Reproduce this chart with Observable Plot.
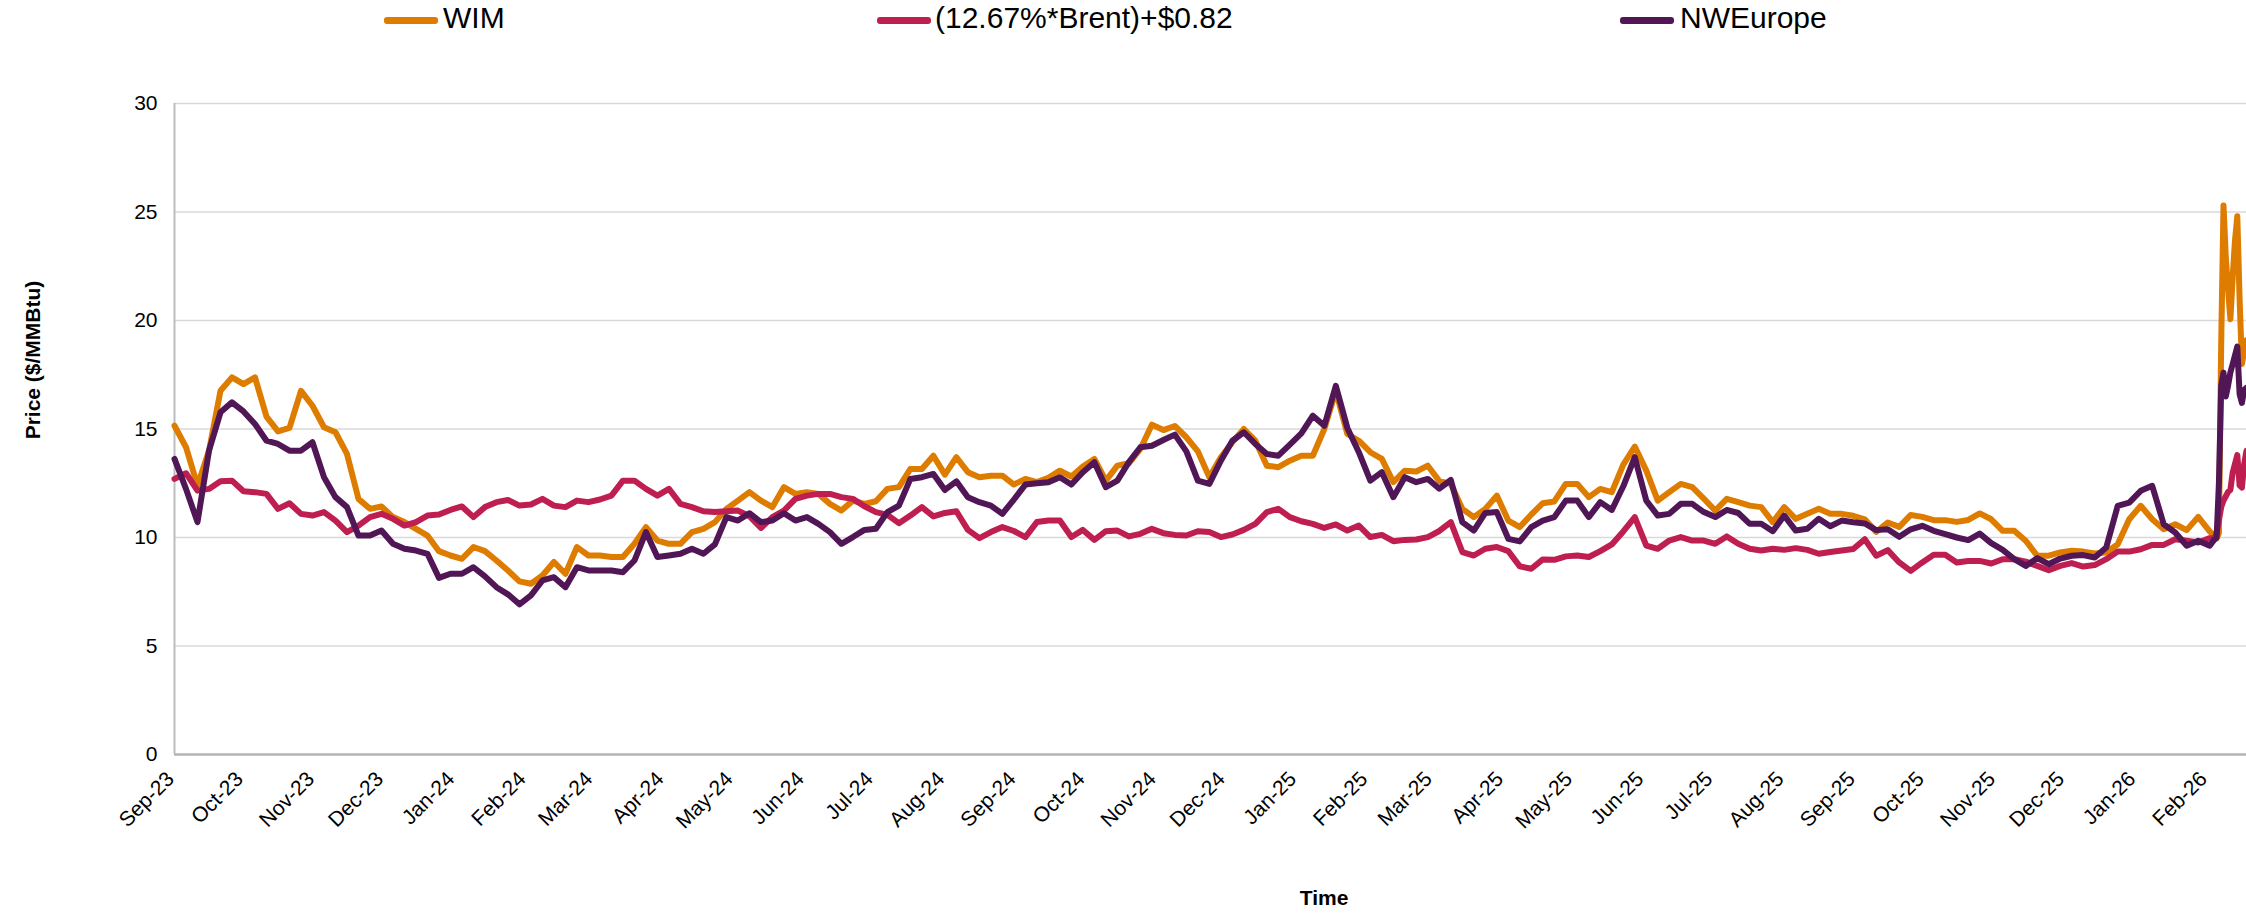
<!DOCTYPE html>
<html>
<head>
<meta charset="utf-8">
<script src="https://cdn.jsdelivr.net/npm/d3@7"></script>
<script src="https://cdn.jsdelivr.net/npm/@observablehq/plot@0.6"></script>
<style>
  html, body { margin: 0; padding: 0; background: #fff; }
  #wrap { position: relative; width: 2246px; height: 913px; font-family: "Liberation Sans", Arial, sans-serif; color: #000; }
  .lg-sw { position: absolute; height: 7px; border-radius: 3px; }
  .lg-tx { position: absolute; font-size: 30px; line-height: 30px; white-space: nowrap; }
  .ttl { position: absolute; font-size: 21px; font-weight: bold; white-space: nowrap; }
</style>
</head>
<body>
<div id="wrap"></div>
<script>
// ---- data ----
const dates = [
"2023-09-01","2023-09-06","2023-09-11","2023-09-16","2023-09-21","2023-09-26","2023-10-01","2023-10-06","2023-10-11","2023-10-16",
"2023-10-21","2023-10-26","2023-10-31","2023-11-05","2023-11-10","2023-11-15","2023-11-20","2023-11-25","2023-11-30","2023-12-05",
"2023-12-10","2023-12-15","2023-12-20","2023-12-25","2023-12-30","2024-01-04","2024-01-09","2024-01-14","2024-01-19","2024-01-24",
"2024-01-29","2024-02-03","2024-02-08","2024-02-13","2024-02-18","2024-02-23","2024-02-28","2024-03-04","2024-03-09","2024-03-14",
"2024-03-19","2024-03-24","2024-03-29","2024-04-03","2024-04-08","2024-04-13","2024-04-18","2024-04-23","2024-04-28","2024-05-03",
"2024-05-08","2024-05-13","2024-05-18","2024-05-23","2024-05-28","2024-06-02","2024-06-07","2024-06-12","2024-06-17","2024-06-22",
"2024-06-27","2024-07-02","2024-07-07","2024-07-12","2024-07-17","2024-07-22","2024-07-27","2024-08-01","2024-08-06","2024-08-11",
"2024-08-16","2024-08-21","2024-08-26","2024-08-31","2024-09-05","2024-09-10","2024-09-15","2024-09-20","2024-09-25","2024-09-30",
"2024-10-05","2024-10-10","2024-10-15","2024-10-20","2024-10-25","2024-10-30","2024-11-04","2024-11-09","2024-11-14","2024-11-19",
"2024-11-24","2024-11-29","2024-12-04","2024-12-09","2024-12-14","2024-12-19","2024-12-24","2024-12-29","2025-01-03","2025-01-08",
"2025-01-13","2025-01-18","2025-01-23","2025-01-28","2025-02-02","2025-02-07","2025-02-12","2025-02-17","2025-02-22","2025-02-27",
"2025-03-04","2025-03-09","2025-03-14","2025-03-19","2025-03-24","2025-03-29","2025-04-03","2025-04-08","2025-04-13","2025-04-18",
"2025-04-23","2025-04-28","2025-05-03","2025-05-08","2025-05-13","2025-05-18","2025-05-23","2025-05-28","2025-06-02","2025-06-07",
"2025-06-12","2025-06-17","2025-06-22","2025-06-27","2025-07-02","2025-07-07","2025-07-12","2025-07-17","2025-07-22","2025-07-27",
"2025-08-01","2025-08-06","2025-08-11","2025-08-16","2025-08-21","2025-08-26","2025-08-31","2025-09-05","2025-09-10","2025-09-15",
"2025-09-20","2025-09-25","2025-09-30","2025-10-05","2025-10-10","2025-10-15","2025-10-20","2025-10-25","2025-10-30","2025-11-04",
"2025-11-09","2025-11-14","2025-11-19","2025-11-24","2025-11-29","2025-12-04","2025-12-09","2025-12-14","2025-12-19","2025-12-24",
"2025-12-29","2026-01-03","2026-01-08","2026-01-13","2026-01-18","2026-01-23","2026-01-28","2026-02-02",
"2026-02-04","2026-02-05","2026-02-06","2026-02-07","2026-02-08","2026-02-09","2026-02-10","2026-02-11","2026-02-12","2026-02-13",
"2026-02-14","2026-02-15","2026-02-16","2026-02-17","2026-02-18"
];

const wim = [
15.15,14.16,12.39,14.00,16.76,17.38,17.07,17.38,15.57,14.89,
15.05,16.76,16.07,15.08,14.85,13.85,11.78,11.32,11.43,10.94,
10.71,10.40,10.09,9.37,9.17,9.02,9.56,9.37,8.94,8.48,
7.98,7.87,8.25,8.87,8.33,9.56,9.17,9.17,9.10,9.10,
9.71,10.48,9.86,9.71,9.71,10.25,10.40,10.71,11.32,11.70,
12.09,11.70,11.40,12.32,12.01,12.09,12.01,11.55,11.24,11.70,
11.55,11.67,12.24,12.32,13.16,13.16,13.77,12.90,13.70,13.01,
12.78,12.85,12.85,12.44,12.70,12.55,12.75,13.08,12.81,13.27,
13.62,12.62,13.31,13.42,14.08,15.20,14.95,15.14,14.62,13.97,
12.78,13.70,14.39,15.00,14.46,13.31,13.24,13.54,13.77,13.77,
15.00,16.76,14.77,14.46,13.93,13.62,12.55,13.08,13.04,13.31,
12.60,12.47,11.32,10.94,11.32,11.93,10.78,10.48,11.06,11.58,
11.66,12.47,12.47,11.86,12.24,12.09,13.36,14.19,13.08,11.70,
12.09,12.47,12.32,11.79,11.24,11.78,11.63,11.47,11.40,10.71,
11.40,10.86,11.09,11.32,11.09,11.09,11.00,10.84,10.26,10.69,
10.49,11.04,10.95,10.80,10.80,10.72,10.81,11.11,10.84,10.31,
10.31,9.85,9.16,9.16,9.31,9.39,9.35,9.26,9.31,9.69,
10.84,11.46,10.84,10.38,10.61,10.34,10.95,10.28,
10.10,9.95,10.20,19.00,25.30,22.90,21.40,20.06,22.00,23.70,
24.80,21.00,18.00,18.60,19.10
];

const brent = [
12.70,12.96,12.16,12.24,12.59,12.62,12.13,12.09,12.01,11.32,
11.58,11.09,11.01,11.17,10.78,10.25,10.55,10.94,11.09,10.86,
10.55,10.71,11.01,11.06,11.27,11.43,10.94,11.40,11.63,11.73,
11.47,11.52,11.78,11.47,11.40,11.70,11.63,11.75,11.93,12.62,
12.62,12.24,11.93,12.24,11.55,11.40,11.21,11.17,11.21,11.24,
10.98,10.44,10.94,11.24,11.78,11.93,12.01,12.01,11.86,11.78,
11.44,11.17,11.04,10.66,11.01,11.40,10.97,11.13,11.21,10.35,
9.97,10.25,10.48,10.30,10.02,10.71,10.78,10.78,10.02,10.35,
9.89,10.29,10.32,10.05,10.17,10.40,10.20,10.12,10.09,10.29,
10.25,10.02,10.14,10.35,10.63,11.17,11.32,10.94,10.75,10.63,
10.44,10.60,10.32,10.55,10.02,10.12,9.83,9.89,9.91,10.02,
10.30,10.71,9.33,9.17,9.48,9.56,9.37,8.67,8.56,8.99,
8.97,9.13,9.17,9.10,9.37,9.68,10.28,10.94,9.63,9.48,
9.86,10.02,9.86,9.86,9.71,10.05,9.71,9.48,9.40,9.48,
9.43,9.51,9.43,9.25,9.33,9.40,9.47,9.92,9.16,9.42,
8.85,8.46,8.85,9.20,9.20,8.85,8.92,8.92,8.80,9.00,
9.00,8.89,8.69,8.49,8.69,8.82,8.66,8.73,9.00,9.35,
9.35,9.46,9.66,9.66,9.92,9.85,9.77,9.97,
9.95,10.20,10.80,11.40,11.70,11.90,12.10,12.20,13.00,13.40,
13.80,12.40,12.30,13.40,14.00
];

const nwe = [
13.62,12.24,10.71,14.00,15.77,16.23,15.81,15.23,14.46,14.31,
14.00,14.00,14.39,12.78,11.86,11.40,10.09,10.09,10.32,9.71,
9.48,9.40,9.25,8.14,8.33,8.33,8.63,8.21,7.71,7.38,
6.92,7.33,8.02,8.17,7.71,8.63,8.48,8.48,8.48,8.40,
8.94,10.25,9.10,9.17,9.25,9.48,9.25,9.68,10.94,10.78,
11.12,10.71,10.78,11.12,10.78,10.94,10.63,10.25,9.71,10.02,
10.35,10.40,11.17,11.47,12.70,12.78,12.93,12.19,12.59,11.86,
11.63,11.47,11.09,11.75,12.44,12.50,12.55,12.78,12.44,13.01,
13.47,12.32,12.62,13.47,14.16,14.23,14.49,14.74,13.97,12.62,
12.47,13.54,14.46,14.85,14.31,13.85,13.77,14.28,14.80,15.61,
15.15,16.99,15.05,13.93,12.62,13.01,11.86,12.78,12.55,12.70,
12.25,12.65,10.71,10.32,11.13,11.17,9.94,9.82,10.48,10.78,
10.94,11.70,11.70,10.94,11.63,11.27,12.36,13.70,11.70,11.01,
11.09,11.55,11.55,11.17,10.94,11.27,11.13,10.63,10.63,10.29,
11.01,10.32,10.40,10.86,10.52,10.78,10.70,10.65,10.34,10.38,
10.03,10.38,10.54,10.31,10.15,10.00,9.88,10.18,9.74,9.43,
9.00,8.69,9.05,8.77,9.03,9.16,9.19,9.08,9.54,11.46,
11.61,12.15,12.38,10.61,10.23,9.62,9.85,9.62,
9.90,10.00,12.50,17.00,17.60,16.50,17.00,17.60,18.00,18.40,
18.80,16.60,16.20,16.80,16.90
];

const seriesNames = ["WIM", "(12.67%*Brent)+$0.82", "NWEurope"];
const seriesColors = ["#DE7C00", "#BE1E50", "#501655"];
const yTicks = [0, 5, 10, 15, 20, 25, 30];
const xTicks = [
"2023-09-01","2023-10-01","2023-11-01","2023-12-01","2024-01-01","2024-02-01","2024-03-01","2024-04-01","2024-05-01","2024-06-01",
"2024-07-01","2024-08-01","2024-09-01","2024-10-01","2024-11-01","2024-12-01","2025-01-01","2025-02-01","2025-03-01","2025-04-01",
"2025-05-01","2025-06-01","2025-07-01","2025-08-01","2025-09-01","2025-10-01","2025-11-01","2025-12-01","2026-01-01","2026-02-01"
];
const xDomain = ["2023-09-01", "2026-02-18"];
const yLabel = "Price ($/MMBtu)";
const xLabel = "Time";

// ---- build table ----
const valuesBySeries = [wim, brent, nwe];
const rows = [];
valuesBySeries.forEach((vals, s) => {
  vals.forEach((v, i) => rows.push({ date: new Date(dates[i] + "T00:00:00Z"), value: v, series: seriesNames[s] }));
});
const fmt = d3.utcFormat("%b-%y");

const chart = Plot.plot({
  width: 2246,
  height: 913,
  marginLeft: 174,
  marginRight: 0,
  marginTop: 103,
  marginBottom: 159,
  style: { fontFamily: "'Liberation Sans', Arial, sans-serif", fontSize: "21px", color: "#000", background: "#fff", overflow: "visible" },
  x: { type: "utc", domain: xDomain.map(d => new Date(d + "T00:00:00Z")) },
  y: { domain: [0, 30] },
  color: { domain: seriesNames, range: seriesColors },
  marks: [
    Plot.gridY(yTicks, { stroke: "#d9d9d9", strokeOpacity: 1, strokeWidth: 1.4 }),
    Plot.axisY(yTicks, { tickSize: 0, tickPadding: 17, label: null, fontSize: 21 }),
    Plot.axisX(xTicks.map(d => new Date(d + "T00:00:00Z")), {
      tickSize: 0, tickPadding: 21, tickRotate: -45, tickFormat: fmt, label: null, fontSize: 21, dx: -4
    }),
    Plot.ruleX([new Date(xDomain[0] + "T00:00:00Z")], { stroke: "#bdbdbd", strokeWidth: 2 }),
    Plot.ruleY([0], { stroke: "#b5b5b5", strokeWidth: 2.5 }),
    Plot.lineY(rows, {
      x: "date", y: "value", z: "series", stroke: "series",
      strokeWidth: 6, strokeLinejoin: "round", strokeLinecap: "round"
    })
  ]
});

const wrap = document.getElementById("wrap");
wrap.appendChild(chart);

// ---- legend (above plot area) ----
const legendPos = [[384, 443], [877, 935], [1620, 1680]];
seriesNames.forEach((name, i) => {
  const sw = document.createElement("div");
  sw.className = "lg-sw";
  sw.style.left = legendPos[i][0] + "px";
  sw.style.top = "17px";
  sw.style.width = "54px";
  sw.style.background = seriesColors[i];
  wrap.appendChild(sw);
  const tx = document.createElement("div");
  tx.className = "lg-tx";
  tx.style.left = legendPos[i][1] + "px";
  tx.style.top = "3px";
  tx.textContent = name;
  wrap.appendChild(tx);
});

// ---- axis titles ----
const yl = document.createElement("div");
yl.className = "ttl";
yl.textContent = yLabel;
yl.style.left = "33px";
yl.style.top = "360px";
yl.style.transform = "translate(-50%,-50%) rotate(-90deg)";
wrap.appendChild(yl);

const xl = document.createElement("div");
xl.className = "ttl";
xl.textContent = xLabel;
xl.style.left = "1324px";
xl.style.top = "898px";
xl.style.transform = "translate(-50%,-50%)";
wrap.appendChild(xl);
</script>
</body>
</html>
